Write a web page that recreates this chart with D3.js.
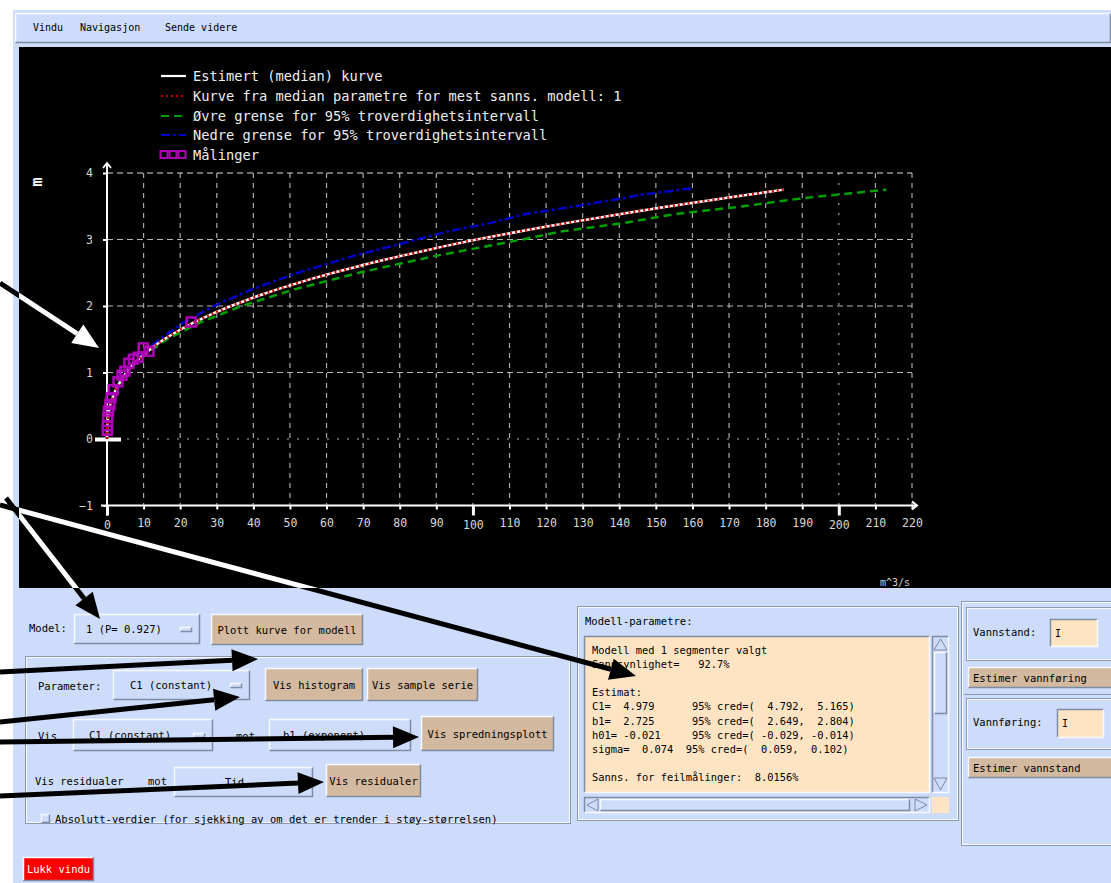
<!DOCTYPE html>
<html>
<head>
<meta charset="utf-8">
<script src="https://cdn.jsdelivr.net/npm/d3@7"></script>
<style>
  body { margin: 0; background: #fff; overflow: hidden; }
  text { font-family: 'DejaVu Sans Mono', 'Liberation Mono', monospace; }
</style>
</head>
<body>
<script>
// ---- data ----
const xTicks = d3.range(0, 221, 10);
const yTicks = [-1, 0, 1, 2, 3, 4];

// estimert (median) kurve: vannstand h (m) -> vannføring Q (m^3/s)
const hMed = [0, 0.1, 0.2, 0.3, 0.4, 0.5, 0.6, 0.75, 0.9, 1.0, 1.1, 1.25, 1.4, 1.5, 1.65, 1.75, 1.9, 2.0, 2.15, 2.25, 2.4, 2.5, 2.65, 2.75, 2.9, 3.0, 3.15, 3.25, 3.4, 3.5, 3.65, 3.75];
const qMed = [0, 0.02, 0.08, 0.23, 0.47, 0.84, 1.36, 2.45, 3.98, 5.27, 6.8, 9.57, 12.97, 15.6, 20.2, 23.6, 29.5, 33.9, 41.2, 46.5, 55.4, 61.9, 72.4, 80.1, 92.4, 101, 115.6, 125.8, 142.1, 153.7, 172.3, 185];
// kurve fra median parametre (faller sammen med medianen)
const hPar = hMed;
const qPar = [0, 0.02, 0.08, 0.23, 0.47, 0.84, 1.36, 2.45, 3.98, 5.27, 6.8, 9.57, 12.97, 15.6, 20.2, 23.6, 29.5, 33.9, 41.2, 46.5, 55.4, 61.9, 72.4, 80.1, 92.4, 101, 115.6, 125.8, 142.1, 153.7, 172.3, 185];
// øvre grense
const hUp = [0, 0.2, 0.4, 0.6, 0.8, 1.0, 1.25, 1.5, 1.75, 2.0, 2.25, 2.5, 2.75, 3.0, 3.12, 3.25, 3.38, 3.5, 3.62, 3.75];
const qUp = [0, 0.08, 0.47, 1.37, 3.1, 5.4, 9.9, 16.4, 25.3, 36.8, 51.2, 68.8, 89.5, 113.5, 124, 141.5, 155, 174, 190, 213];
// nedre grense
const hLo = [0, 0.2, 0.4, 0.6, 0.8, 1.0, 1.25, 1.5, 1.75, 2.0, 2.25, 2.5, 2.75, 3.0, 3.12, 3.25, 3.38, 3.5, 3.6, 3.68, 3.77];
const qLo = [0, 0.08, 0.46, 1.33, 2.9, 5.1, 9.1, 14.3, 20.9, 29.2, 39.6, 52.2, 67.2, 84.8, 93, 105, 114, 128, 139, 147, 160];
// målinger
const qObs = [0.1, 0.1, 0.2, 0.4, 0.8, 1.1, 1.7, 3.0, 4.1, 4.9, 6.0, 7.2, 8.5, 9.9, 11.5, 23.0];
const hObs = [0.13, 0.2, 0.33, 0.42, 0.52, 0.62, 0.74, 0.86, 0.96, 1.02, 1.14, 1.20, 1.23, 1.37, 1.32, 1.76];

const legendLabels = [
  'Estimert (median) kurve',
  'Kurve fra median parametre for mest sanns. modell: 1',
  'Øvre grense for 95% troverdighetsintervall',
  'Nedre grense for 95% troverdighetsintervall',
  'Målinger'
];
const paramLines = [
  'Modell med 1 segmenter valgt',
  'Sannsynlighet=   92.7%',
  '',
  'Estimat:',
  'C1=  4.979      95% cred=(  4.792,  5.165)',
  'b1=  2.725      95% cred=(  2.649,  2.804)',
  'h01= -0.021     95% cred=( -0.029, -0.014)',
  'sigma=  0.074  95% cred=(  0.059,  0.102)',
  '',
  'Sanns. for feilmålinger:  8.0156%'
];

const W = 1111, H = 883;
const BG = '#cddcfa', TAN = '#d2b9a0', BISQUE = '#ffe4c4';
const FS = 10.5;

const svg = d3.select('body').append('svg').attr('width', W).attr('height', H);

// ---- gui helpers ----
function bevel(g, x, y, w, h, fill, sunken) {
  const light = '#f6f9ff', dark = '#7f8aa3';
  g.append('rect').attr('x', x).attr('y', y).attr('width', w).attr('height', h).attr('fill', fill);
  g.append('path').attr('d', `M${x + 0.5},${y + h - 0.5}V${y + 0.5}H${x + w - 0.5}`)
    .attr('fill', 'none').attr('stroke', sunken ? dark : light).attr('stroke-width', 1.5);
  g.append('path').attr('d', `M${x + w - 0.5},${y + 0.5}V${y + h - 0.5}H${x + 0.5}`)
    .attr('fill', 'none').attr('stroke', sunken ? light : dark).attr('stroke-width', 1.5);
}
function frame(g, x, y, w, h) {
  g.append('rect').attr('x', x + 0.5).attr('y', y + 0.5).attr('width', w).attr('height', h)
    .attr('fill', 'none').attr('stroke', '#8d99b3');
  g.append('rect').attr('x', x + 1.5).attr('y', y + 1.5).attr('width', w - 2).attr('height', h - 2)
    .attr('fill', 'none').attr('stroke', '#f6f9ff');
}
function label(g, x, y, txt, size, fill, anchor) {
  return g.append('text').attr('x', x).attr('y', y).attr('font-size', size || FS)
    .attr('fill', fill || '#000').attr('text-anchor', anchor || 'start')
    .attr('xml:space', 'preserve').text(txt);
}
function button(g, x, y, w, h, txt, fill, color) {
  bevel(g, x, y, w, h, fill || TAN, false);
  label(g, x + w / 2, y + h / 2 + 4, txt, FS, color || '#000', 'middle');
}
function leftButton(g, x, y, w, h, txt) {
  bevel(g, x, y, w, h, TAN, false);
  label(g, x + 5, y + h / 2 + 4, txt, FS);
}
function dropdown(g, x, y, w, h, txt, tx) {
  bevel(g, x, y, w, h, BG, false);
  label(g, tx, y + h / 2 + 4, txt, FS);
  bevel(g, x + w - 20, y + h / 2 - 2, 12, 5, BG, false);
}

// ---- window ----
svg.append('rect').attr('x', 13).attr('y', 10).attr('width', W - 13).attr('height', H - 10).attr('fill', BG);
const menu = svg.append('g');
bevel(menu, 15, 13, W - 15, 30, BG, false);
label(menu, 33, 31, 'Vindu', 10);
label(menu, 80, 31, 'Navigasjon', 10);
label(menu, 165, 31, 'Sende videre', 10);

// ---- chart ----
const chart = svg.append('g');
chart.append('rect').attr('x', 19).attr('y', 47).attr('width', W - 19).attr('height', 541).attr('fill', '#000');

const x = d3.scaleLinear().domain([0, 220]).range([107, 912]);
const y = d3.scaleLinear().domain([-1, 4]).range([505.5, 173]);

// grid
chart.selectAll('line.vgrid').data(xTicks.filter(d => d > 0)).enter().append('line')
  .attr('x1', d => x(d)).attr('x2', d => x(d)).attr('y1', y(4)).attr('y2', y(-1))
  .attr('stroke', '#a8a8a8').attr('stroke-width', 1.2)
  .attr('stroke-dasharray', d => d % 100 === 0 ? '2,8' : '5,5');
chart.selectAll('line.hgrid').data(yTicks.filter(d => d >= 0)).enter().append('line')
  .attr('x1', x(0)).attr('x2', x(220)).attr('y1', d => y(d)).attr('y2', d => y(d))
  .attr('stroke', d => d === 4 ? '#e0e0e0' : '#b8b8b8').attr('stroke-width', 1.2)
  .attr('stroke-dasharray', d => d === 0 ? '2,8' : '6,4');

// axes
const xAxis = chart.append('g').attr('transform', `translate(0,${y(-1)})`)
  .call(d3.axisBottom(x).tickValues(xTicks).tickSize(4).tickPadding(9).tickFormat(d3.format('d')));
const yAxis = chart.append('g').attr('transform', `translate(${x(0)},0)`)
  .call(d3.axisLeft(y).tickValues(yTicks).tickSize(4).tickFormat(d3.format('d')));
[xAxis, yAxis].forEach(a => {
  a.select('.domain').remove();
  a.selectAll('line').attr('stroke', '#fff').attr('stroke-width', 2);
  a.selectAll('text').attr('fill', '#d8d8d8').attr('font-size', 11.5)
    .attr('font-family', "'DejaVu Sans', sans-serif");
});
xAxis.selectAll('.tick').filter(d => d % 100 === 0).select('line').attr('y2', 10).attr('stroke-width', 3);
xAxis.selectAll('.tick').filter(d => d % 100 === 0).select('text').attr('y', 15);
yAxis.selectAll('.tick').filter(d => d === 0).select('line').attr('x1', 0).attr('x2', -12).attr('stroke-width', 4);
yAxis.selectAll('.tick').filter(d => d === 0).append('line').attr('x1', 0).attr('x2', 14)
  .attr('stroke', '#fff').attr('stroke-width', 4);
yAxis.selectAll('text').attr('x', -14);

// axis lines with arrow heads
chart.append('path').attr('d', `M${x(0)},${y(-1) + 10}V${y(4) - 10}`).attr('stroke', '#fff').attr('stroke-width', 2);
chart.append('path').attr('d', `M${x(0) - 4},${y(4) - 5}L${x(0)},${y(4) - 10}L${x(0) + 4},${y(4) - 5}`)
  .attr('stroke', '#fff').attr('stroke-width', 2).attr('fill', 'none');
chart.append('path').attr('d', `M${x(0) - 6},${y(-1)}H${x(220) + 5}`).attr('stroke', '#fff').attr('stroke-width', 2);
chart.append('path').attr('d', `M${x(220)},${y(-1) - 4}L${x(220) + 5},${y(-1)}L${x(220)},${y(-1) + 4}`)
  .attr('stroke', '#fff').attr('stroke-width', 2).attr('fill', 'none');

// axis titles
chart.append('text').attr('transform', 'translate(42,182) rotate(-90)').attr('font-size', 15)
  .attr('font-weight', 'bold').attr('fill', '#fff').attr('text-anchor', 'middle').text('m');
chart.append('text').attr('x', 880).attr('y', 586).attr('font-size', 10).attr('fill', '#cfcfcf').text('m^3/s');

// curves
const line = d3.line().x(d => x(d[0])).y(d => y(d[1]));
const series = [
  { q: qLo, h: hLo, color: '#0000c8', dash: '9,3,3,3', w: 2.5 },
  { q: qUp, h: hUp, color: '#00a000', dash: '8,5', w: 2.5 },
  { q: qMed, h: hMed, color: '#ffffff', dash: null, w: 2.5 },
  { q: qPar, h: hPar, color: '#d00000', dash: '2,3', w: 2.5 }
];
series.forEach(s => {
  chart.append('path').datum(d3.zip(s.q, s.h)).attr('d', line)
    .attr('fill', 'none').attr('stroke', s.color).attr('stroke-width', s.w)
    .attr('stroke-dasharray', s.dash);
});
chart.selectAll('rect.obs').data(d3.zip(qObs, hObs)).enter().append('rect')
  .attr('x', d => x(d[0]) - 4.5).attr('y', d => y(d[1]) - 4.5).attr('width', 9).attr('height', 9)
  .attr('fill', 'none').attr('stroke', '#b000b8').attr('stroke-width', 2.5);

// legend
const legY = [76, 96, 116, 135, 155];
const leg = chart.append('g');
legendLabels.forEach((t, i) => {
  const yy = legY[i];
  if (i < 4) {
    const s = [series[2], series[3], series[1], series[0]][i];
    leg.append('line').attr('x1', 161).attr('x2', 186).attr('y1', yy).attr('y2', yy)
      .attr('stroke', s.color).attr('stroke-width', 2.2).attr('stroke-dasharray', s.dash);
  } else {
    [164, 173, 182].forEach(cx => leg.append('rect').attr('x', cx - 3.5).attr('y', yy - 4).attr('width', 7).attr('height', 7)
      .attr('fill', 'none').attr('stroke', '#b000b8').attr('stroke-width', 2));
  }
  leg.append('text').attr('x', 193).attr('y', yy + 5).attr('font-size', 13.7).attr('fill', '#eee').text(t);
});

// ---- lower left controls ----
const ctl = svg.append('g');
label(ctl, 29, 632, 'Model:');
dropdown(ctl, 74, 614, 126, 30, '1 (P= 0.927)', 86);
button(ctl, 211, 614, 152, 31, 'Plott kurve for modell');
frame(ctl, 25, 656, 545, 167);
label(ctl, 38, 690, 'Parameter:');
dropdown(ctl, 113, 670, 137, 30, 'C1 (constant)', 130);
button(ctl, 265, 668, 98, 33, 'Vis histogram');
button(ctl, 367, 668, 111, 33, 'Vis sample serie');
label(ctl, 38, 740, 'Vis');
dropdown(ctl, 73, 719, 140, 32, 'C1 (constant)', 89);
label(ctl, 236, 740, 'mot');
dropdown(ctl, 269, 719, 142, 32, 'b1 (exponent)', 283);
button(ctl, 421, 716, 133, 35, 'Vis spredningsplott');
label(ctl, 35, 785, 'Vis residualer');
label(ctl, 148, 785, 'mot');
dropdown(ctl, 174, 767, 139, 30, 'Tid', 225);
button(ctl, 326, 764, 95, 33, 'Vis residualer');
bevel(ctl, 41, 814, 9, 9, BG, false);
label(ctl, 55, 823, 'Absolutt-verdier (for sjekking av om det er trender i støy-størrelsen)');
button(ctl, 23, 857, 71, 24, 'Lukk vindu', '#ff0000', '#fff');

// ---- model parameter panel ----
const mp = svg.append('g');
frame(mp, 577, 606, 381, 214);
label(mp, 585, 625, 'Modell-parametre:');
bevel(mp, 584, 636, 346, 157, BISQUE, true);
paramLines.forEach((t, i) => {
  label(mp, 592, 654 + i * 14.1, t, 10.4);
});
// scrollbars
bevel(mp, 932, 636, 17, 157, BG, true);
mp.append('path').attr('d', 'M934,650L940.5,639L947,650Z').attr('fill', BG).attr('stroke', '#7f8aa3');
bevel(mp, 934, 652, 13, 62, BG, false);
mp.append('path').attr('d', 'M934,778L940.5,790L947,778Z').attr('fill', BG).attr('stroke', '#7f8aa3');
bevel(mp, 584, 797, 346, 16, BG, true);
mp.append('path').attr('d', 'M598,799L587,805L598,811Z').attr('fill', BG).attr('stroke', '#7f8aa3');
bevel(mp, 600, 799, 310, 12, BG, false);
mp.append('path').attr('d', 'M915,799L927,805L915,811Z').attr('fill', BG).attr('stroke', '#7f8aa3');
mp.append('rect').attr('x', 932).attr('y', 797).attr('width', 17).attr('height', 16).attr('fill', BISQUE);

// ---- right panel ----
const rp = svg.append('g');
frame(rp, 961, 601, 160, 244);
frame(rp, 966, 607, 150, 53);
label(rp, 973, 636, 'Vannstand:');
bevel(rp, 1050, 619, 48, 28, BISQUE, true);
label(rp, 1055, 637, 'I', 10);
leftButton(rp, 968, 667, 150, 21, 'Estimer vannføring');
rp.append('line').attr('x1', 964).attr('x2', W).attr('y1', 694.5).attr('y2', 694.5).attr('stroke', '#8d99b3');
frame(rp, 966, 698, 150, 51);
label(rp, 973, 726, 'Vannføring:');
bevel(rp, 1057, 709, 47, 29, BISQUE, true);
label(rp, 1062, 727, 'I', 10);
leftButton(rp, 968, 757, 150, 21, 'Estimer vannstand');

// ---- annotation arrows (black on light background, white over the plot) ----
const arrows = [
  [0, 283, 99, 348],
  [6, 498, 100, 619],
  [0, 505, 636, 676],
  [0, 672, 258, 659],
  [0, 722, 240, 697],
  [0, 742, 419, 737],
  [0, 796, 324, 782]
];
function drawArrows(g, color) {
  arrows.forEach(([x1, y1, x2, y2]) => {
    const a = Math.atan2(y2 - y1, x2 - x1), L = 26, hw = 11;
    const bx = x2 - L * Math.cos(a), by = y2 - L * Math.sin(a);
    g.append('line').attr('x1', x1).attr('y1', y1).attr('x2', bx).attr('y2', by)
      .attr('stroke', color).attr('stroke-width', 5);
    g.append('path').attr('fill', color)
      .attr('d', `M${x2},${y2}L${bx - hw * Math.sin(a)},${by + hw * Math.cos(a)}L${bx + hw * Math.sin(a)},${by - hw * Math.cos(a)}Z`);
  });
}
drawArrows(svg.append('g'), '#000');
svg.append('clipPath').attr('id', 'plotclip').append('rect')
  .attr('x', 19).attr('y', 47).attr('width', W - 19).attr('height', 541);
drawArrows(svg.append('g').attr('clip-path', 'url(#plotclip)'), '#fff');
</script>
</body>
</html>
